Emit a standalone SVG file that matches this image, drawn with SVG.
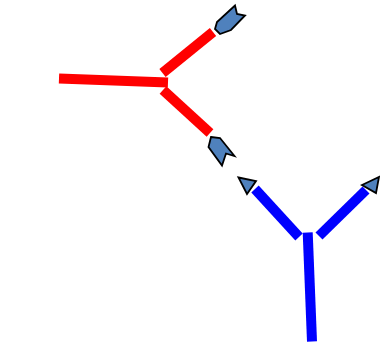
<svg xmlns="http://www.w3.org/2000/svg" width="380" height="346" viewBox="0 0 380 346">
<style>
.red{stroke:#FF0000;stroke-width:10;fill:none;stroke-linecap:butt}
.blue{stroke:#0000FF;stroke-width:10;fill:none;stroke-linecap:butt}
.head{fill:#4F81BD;stroke:#000000;stroke-width:1.8;stroke-linejoin:miter}
</style>
<rect width="380" height="346" fill="#FFFFFF"/>
<g id="connectors">
<g id="red-branch">
<line class="red" x1="59" y1="78.5" x2="168" y2="82.5"/>
<line class="red" x1="162.5" y1="73" x2="213" y2="32"/>
<line class="red" x1="163" y1="90" x2="210" y2="133"/>
</g>
<g id="blue-branch">
<line class="blue" x1="255" y1="189" x2="299" y2="237"/>
<line class="blue" x1="366" y1="190" x2="319" y2="236"/>
<line class="blue" x1="307.7" y1="232.5" x2="312" y2="341.5"/>
</g>
</g>
<g id="arrow-top">
<polygon class="head" points="215,29 217,22 235,5.5 237,14 245,15.5 231,30 220,34"/>
</g>
<g id="arrow-mid">
<polygon class="head" points="211,137 220,138 234.5,156 226,153.5 222,165.5 208.5,147"/>
</g>
<g id="arrow-left">
<polygon class="head" points="238.5,177.5 256,181 247,194"/>
</g>
<g id="arrow-right">
<polygon class="head" points="362,185 379,177 376,193"/>
</g>
</svg>
